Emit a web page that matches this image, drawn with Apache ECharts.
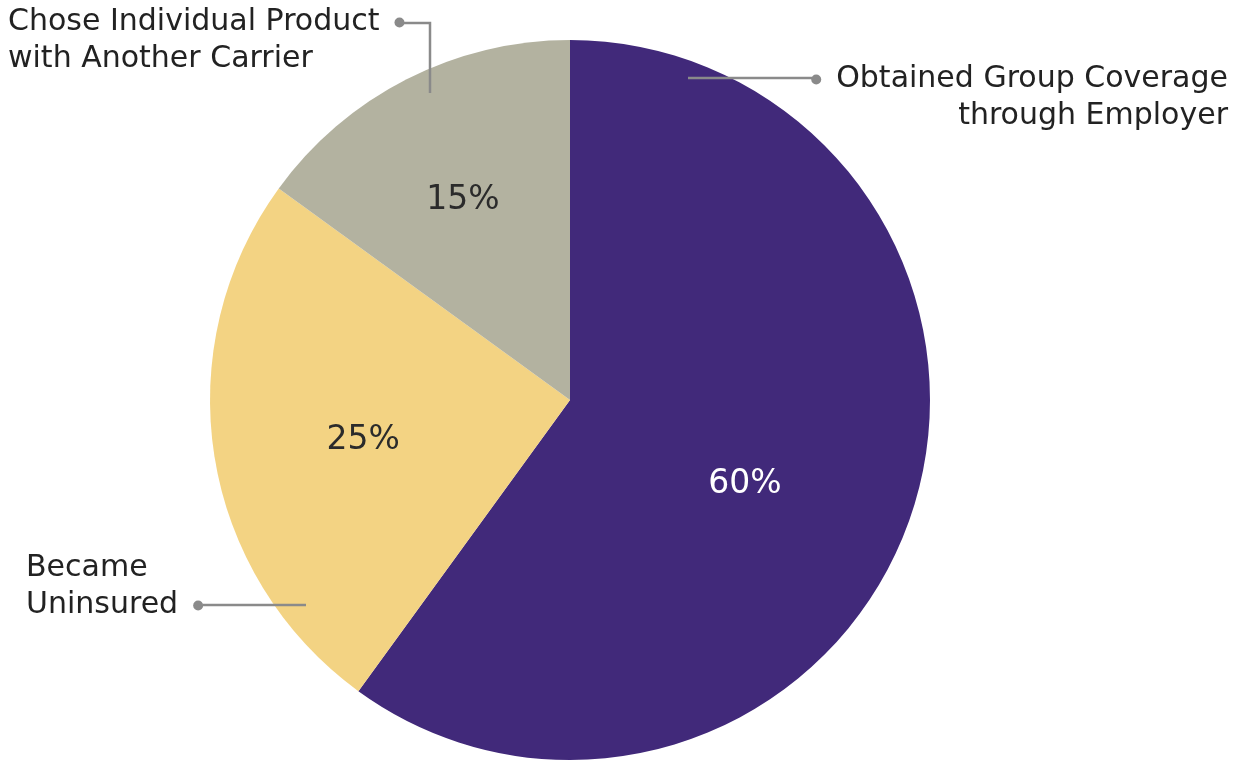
<!DOCTYPE html>
<html>
<head>
<meta charset="utf-8">
<script src="https://cdn.jsdelivr.net/npm/echarts@6/dist/echarts.min.js"></script>
<style>
  html, body { margin: 0; background: #fff; }
  #chart { width: 1241px; height: 768px; }
</style>
</head>
<body>
<div id="chart"></div>
<script>
// slices, clockwise from 12 o'clock
const names = ['Obtained Group Coverage through Employer', 'Became Uninsured', 'Chose Individual Product with Another Carrier'];
const textLines = [
  ['Obtained Group Coverage', 'through Employer'],
  ['Became', 'Uninsured'],
  ['Chose Individual Product', 'with Another Carrier']
];
const shares = [60, 25, 15];
const sliceColors = ['#41297a', '#f3d383', '#b3b2a0'];
const pctColors = ['#ffffff', '#2b2b2b', '#2b2b2b'];

const FONT = 'DejaVu Sans';
const LINE_GRAY = '#8a8a8a';

// little nudges for the % text away from the default inside spot
const pctShift = [[1, 28], [-26, 12], [-24, -37]];

// callouts: text anchor, which side the dot sits on, leader path
const callouts = [
  { x: 1228, y: 98, align: 'right', dot: 'first-before', path: [[688, 78], [812, 78]] },
  { x: 26, y: 587, align: 'left', dot: 'last-after', path: [[306, 605], [203, 605]] },
  { x: 8, y: 41, align: 'left', dot: 'first-after', path: [[430, 93], [430, 23], [402, 23]] }
];

function calloutText(i) {
  const [a, b] = textLines[i];
  const d = callouts[i].dot;
  if (d === 'first-before') return `{dot|}{gap|}{t|${a}}\n{t|${b}}`;
  if (d === 'first-after') return `{t|${a}}{gap|}{dot|}\n{t|${b}}`;
  return `{t|${a}}\n{t|${b}}{gap|}{dot|}`;
}

const data = names.map((n, i) => ({
  name: n,
  value: shares[i],
  itemStyle: { color: sliceColors[i] },
  label: { color: pctColors[i] }
}));

const chart = echarts.init(document.getElementById('chart'));
chart.setOption({
  animation: false,
  series: [
    {
      type: 'pie',
      z: 2,
      center: [570, 400],
      radius: 360,
      startAngle: 90,
      clockwise: true,
      silent: true,
      data: data,
      label: {
        show: true,
        position: 'inside',
        formatter: '{c}%',
        fontFamily: FONT,
        fontSize: 33
      },
      labelLine: { show: false },
      labelLayout: p => ({ dx: pctShift[p.dataIndex][0], dy: pctShift[p.dataIndex][1] })
    },
    {
      // same slices again, see-through, only to carry the outside callouts
      type: 'pie',
      z: 5,
      center: [570, 400],
      radius: 360,
      startAngle: 90,
      clockwise: true,
      silent: true,
      avoidLabelOverlap: false,
      data: names.map((n, i) => ({ name: n, value: shares[i] })),
      itemStyle: { color: 'rgba(0,0,0,0)' },
      label: {
        show: true,
        position: 'outside',
        formatter: p => calloutText(p.dataIndex),
        rich: {
          t: { fontFamily: FONT, fontSize: 30, lineHeight: 37, color: '#222222' },
          gap: { width: 15, height: 10 },
          dot: { width: 10, height: 10, borderRadius: 5, backgroundColor: LINE_GRAY }
        }
      },
      labelLine: {
        show: true,
        lineStyle: { color: LINE_GRAY, width: 2.5 }
      },
      labelLayout: p => {
        const c = callouts[p.dataIndex];
        return {
          x: c.x,
          y: c.y,
          align: c.align,
          verticalAlign: 'middle',
          labelLinePoints: c.path
        };
      }
    }
  ]
});
</script>
</body>
</html>
